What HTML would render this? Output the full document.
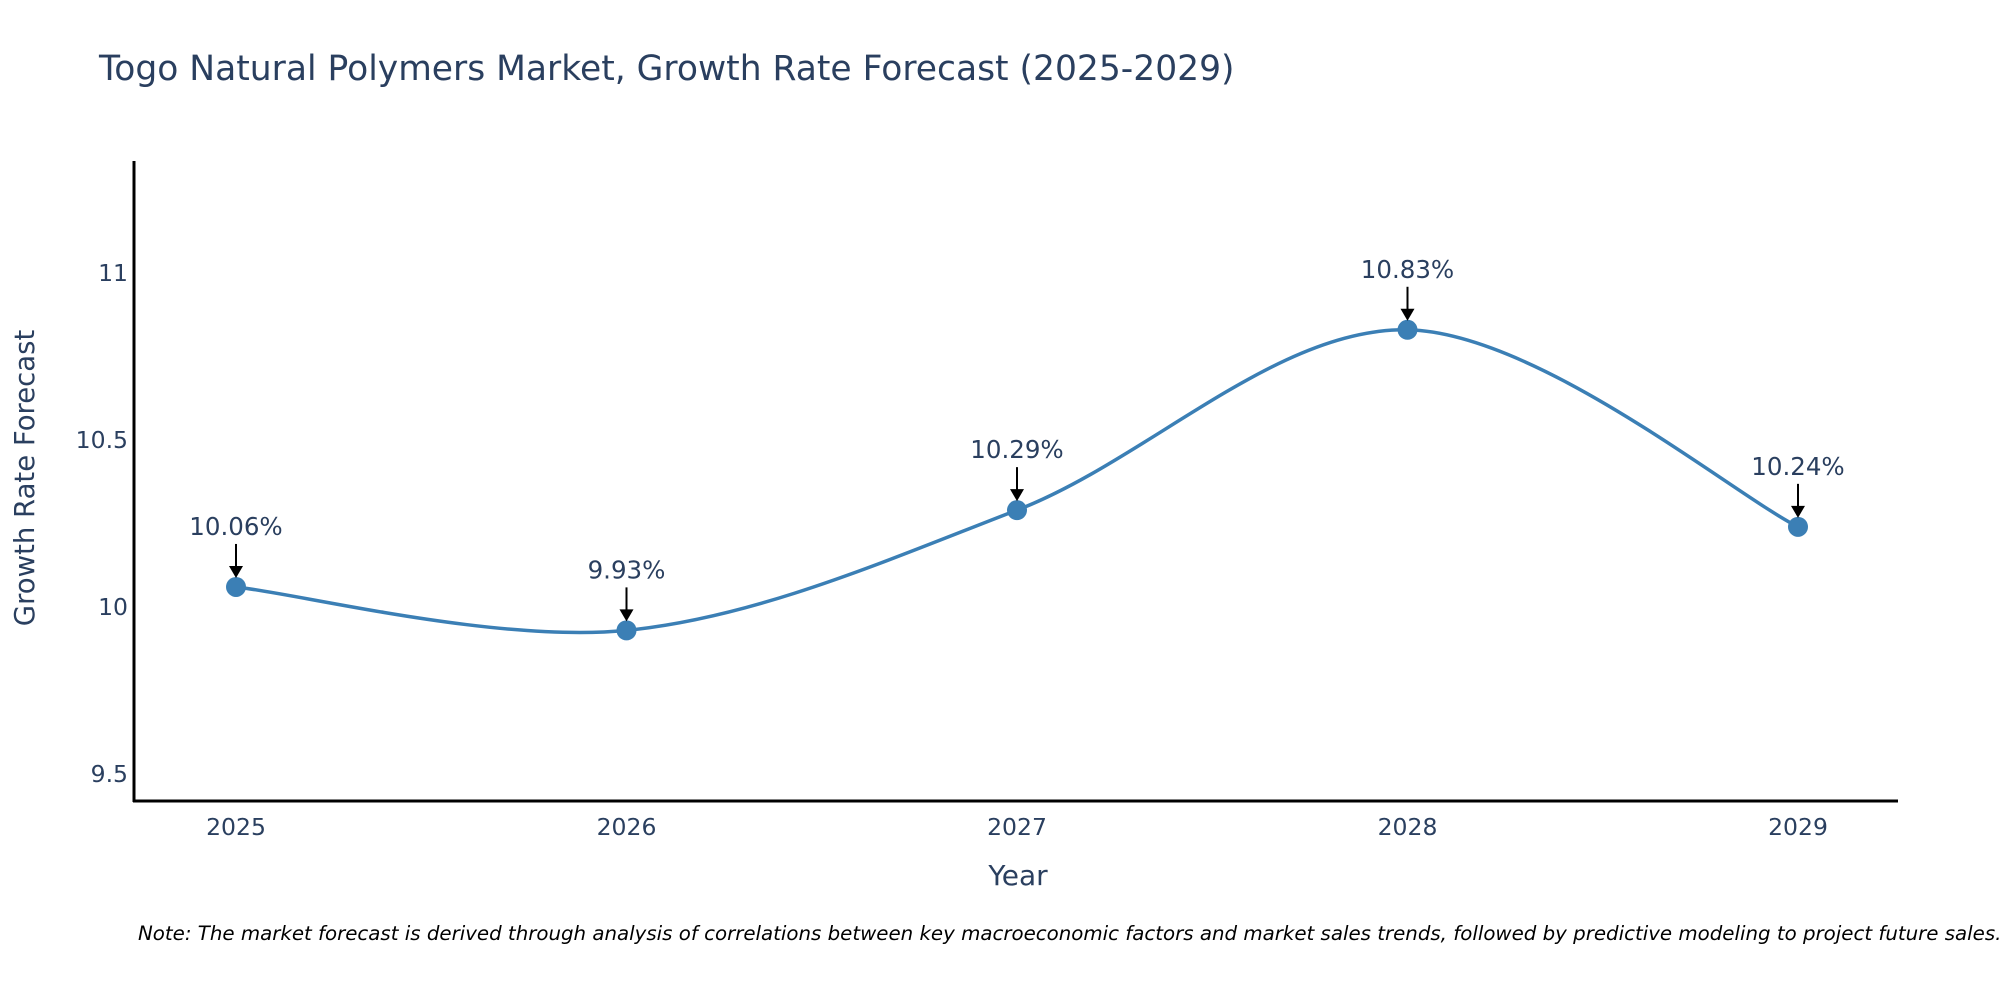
<!DOCTYPE html>
<html><head><meta charset="utf-8">
<style>
html,body{margin:0;padding:0;background:#fff;}
svg{display:block;font-family:"DejaVu Sans","Liberation Sans",sans-serif;}
</style></head>
<body>
<svg id="chart" width="2000" height="1000" viewBox="0 0 2000 1000">
<text x="99" y="80" font-size="34.5" fill="#2a3f5f">Togo Natural Polymers Market, Growth Rate Forecast (2025-2029)</text>
<g id="yticks"></g>
<g id="xticks"></g>
<line x1="134" y1="161" x2="134" y2="802" stroke="#000" stroke-width="3"/>
<line x1="133" y1="801" x2="1898" y2="801" stroke="#000" stroke-width="3"/>
<path id="series-line" fill="none" stroke="#3b7fb5" stroke-width="3.5"/>
<g id="points"></g>
<g id="annots"></g>
<text x="1018" y="885" font-size="28" fill="#2a3f5f" text-anchor="middle">Year</text>
<text transform="translate(34,478) rotate(-90)" font-size="27.5" fill="#2a3f5f" text-anchor="middle">Growth Rate Forecast</text>
<text x="138" y="940" font-size="19.8" font-style="italic" fill="#000">Note: The market forecast is derived through analysis of correlations between key macroeconomic factors and market sales trends, followed by predictive modeling to project future sales.</text>
</svg>
<script>
const years = [2025, 2026, 2027, 2028, 2029];
const rates = [10.06, 9.93, 10.29, 10.83, 10.24];
const labels = ["10.06%", "9.93%", "10.29%", "10.83%", "10.24%"];
const yTickValues = [9.5, 10, 10.5, 11];
const yTickLabels = ["9.5", "10", "10.5", "11"];

const NS = "http://www.w3.org/2000/svg";
function xScale(v){ return 236 + (v - 2025) * (1798 - 236) / 4; }
function yScale(v){ return 607 - (v - 10) * 334; }
function mk(tag, attrs, parent){ const e=document.createElementNS(NS,tag); for(const k in attrs) e.setAttribute(k,attrs[k]); parent.appendChild(e); return e; }

const yt=document.getElementById('yticks');
yTickValues.forEach((v,i)=>{
  const t=mk('text',{x:128,y:yScale(v)+8,'font-size':23.5,fill:'#2a3f5f','text-anchor':'end'},yt);
  t.textContent=yTickLabels[i];
  
  
});
const xt=document.getElementById('xticks');
years.forEach(y=>{
  const t=mk('text',{x:xScale(y),y:835,'font-size':23.5,fill:'#2a3f5f','text-anchor':'middle'},xt);
  t.textContent=String(y);
  
  
});

const pts=years.map((y,i)=>[xScale(y),yScale(rates[i])]);
let d=`M${pts[0][0]},${pts[0][1]}`;
const s=1/6;
for(let i=0;i<pts.length-1;i++){
  const p0=pts[Math.max(i-1,0)],p1=pts[i],p2=pts[i+1],p3=pts[Math.min(i+2,pts.length-1)];
  const c1=[p1[0]+(p2[0]-p0[0])*s,p1[1]+(p2[1]-p0[1])*s];
  const c2=[p2[0]-(p3[0]-p1[0])*s,p2[1]-(p3[1]-p1[1])*s];
  d+=` C${c1[0]},${c1[1]} ${c2[0]},${c2[1]} ${p2[0]},${p2[1]}`;
}
document.getElementById('series-line').setAttribute('d',d);

const pg=document.getElementById('points'), ag=document.getElementById('annots');
pts.forEach((p,i)=>{
  const c=mk('circle',{cx:p[0],cy:p[1],r:10,fill:'#3b7fb5'},pg);
  
  
  const l=mk('line',{x1:p[0],y1:p[1]-43,x2:p[0],y2:p[1]-20,stroke:'#000','stroke-width':2},ag);
  
  
  const h=mk('polygon',{points:`${p[0]-7},${p[1]-21} ${p[0]+7},${p[1]-21} ${p[0]},${p[1]-9}`,fill:'#000'},ag);
  
  
  const t=mk('text',{x:p[0],y:p[1]-52,'font-size':24.5,fill:'#2a3f5f','text-anchor':'middle'},ag);
  t.textContent=labels[i];
  
  
});
</script>
</body></html>
